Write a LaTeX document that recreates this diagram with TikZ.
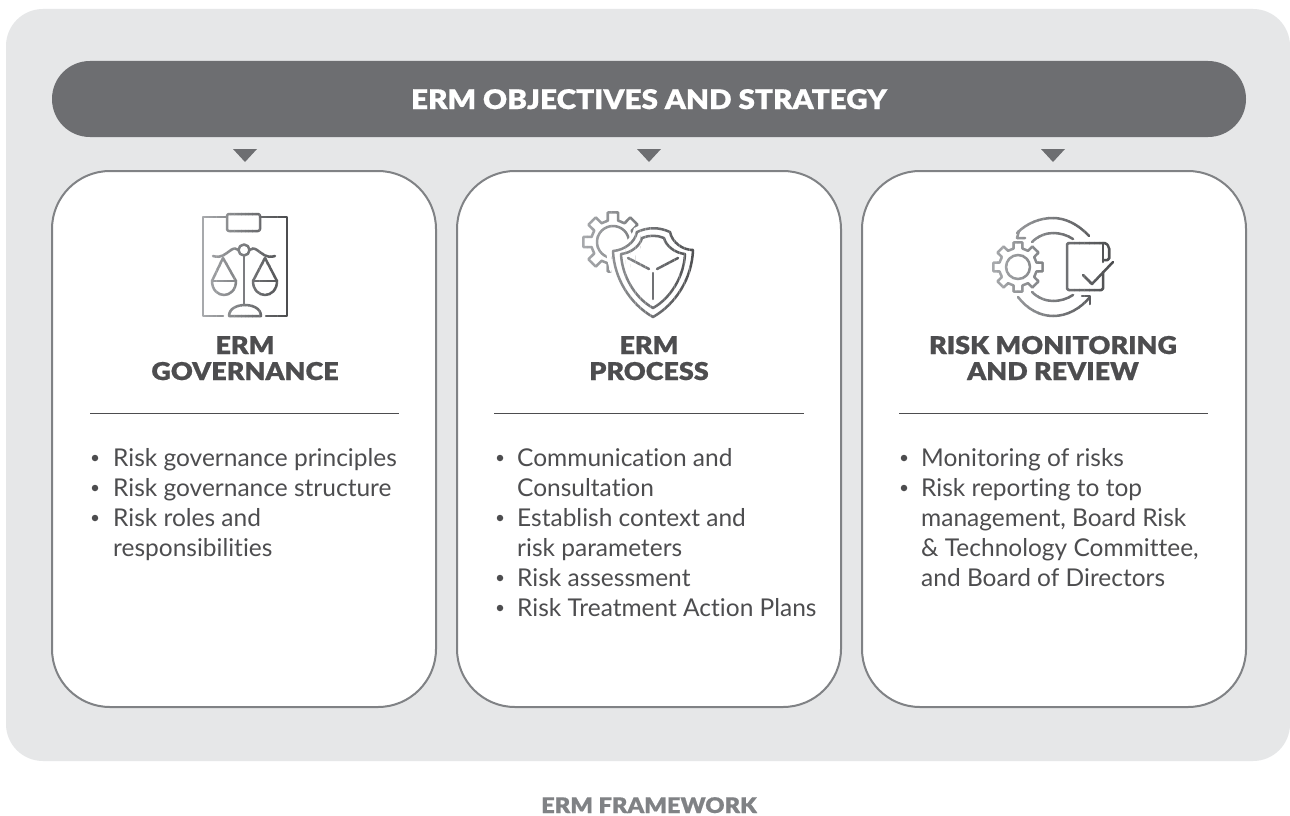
\documentclass[tikz,border=0pt]{standalone}
\usepackage{fontspec}
\setmainfont[Ligatures=NoCommon]{Lato}
\newfontfamily\headfont[FakeStretch=1.1,FakeBold=0.7]{Lato Black}
\definecolor{panelgray}{HTML}{E6E7E8}
\definecolor{bannergray}{HTML}{6D6E71}
\definecolor{edgegray}{HTML}{808285}
\definecolor{inkgray}{HTML}{4D4D4F}
\definecolor{icondark}{HTML}{4D4E50}
\definecolor{iconlight}{HTML}{A7A9AC}
\tikzset{
  x=1pt,y=-1pt,
  cardbox/.style={draw=edgegray,line width=2pt,fill=white,rounded corners=58pt},
  marker/.style={fill=bannergray,draw=none},
  heading/.style={font=\headfont\fontsize{24.5}{26}\selectfont,text=inkgray,align=center,anchor=base,inner sep=0pt},
  bodytext/.style={font=\fontsize{24.5}{30}\selectfont,text=inkgray,anchor=base west,inner sep=0pt},
  dotmark/.style={circle,fill=inkgray,inner sep=0pt,minimum size=6.5pt},
  rulerline/.style={draw=inkgray,line width=1pt},
  ic/.style={line width=2.5pt,line cap=round,line join=round},
}
% gradient stroke: redraw the icon in vertical strips
\newcommand{\gradicon}[3]{%
  \pgfmathsetmacro{\stripw}{(#2-#1)/24}%
  \foreach \si in {0,...,23}{%
    \pgfmathsetmacro{\sa}{#1+\si*\stripw}%
    \pgfmathsetmacro{\sb}{\sa+\stripw+0.4}%
    \pgfmathtruncatemacro{\mixv}{100-\si*100/23}%
    \colorlet{strokecol}{iconlight!\mixv!icondark}%
    \begin{scope}
      \clip (\sa,150) rectangle (\sb,340);
      #3
    \end{scope}
  }%
}
% gear outline: centre x, y, outer r, body r, teeth, start angle
\newcommand{\gearpath}[6]{%
  \pgfmathsetmacro{\gstep}{360/#5}%
  \pgfmathsetmacro{\gt}{\gstep*0.22}%
  \pgfmathsetmacro{\gb}{\gstep*0.30}%
  \draw[ic,draw=strokecol]
    ({#1+#4*cos(#6-\gb)},{#2+#4*sin(#6-\gb)})
    \foreach \gi in {1,...,#5}{
      \pgfextra{\pgfmathsetmacro{\ga}{#6+(\gi-1)*\gstep}}
      -- ({#1+#4*cos(\ga-\gb)},{#2+#4*sin(\ga-\gb)})
      -- ({#1+#3*cos(\ga-\gt)},{#2+#3*sin(\ga-\gt)})
      -- ({#1+#3*cos(\ga+\gt)},{#2+#3*sin(\ga+\gt)})
      -- ({#1+#4*cos(\ga+\gb)},{#2+#4*sin(\ga+\gb)})
    } -- cycle;
}
\newcommand{\iconscales}{%
  \begin{scope}[ic,draw=strokecol]
    \draw (227,217) -- (203,217) -- (203,316) -- (223,316);
    \draw (266,316) -- (287,316) -- (287,217) -- (260,217);
    \draw[rounded corners=2pt] (227,214) rectangle (260,231);
    \draw (229,316) -- (261,316) .. controls (261,308) and (252,305) .. (245,305) .. controls (238,305) and (229,308) .. (229,316);
    \draw (244,256) -- (244,305);
    \draw (244,250) circle (5.5);
    \draw (213,256) .. controls (222,259) and (226,253) .. (231,250) .. controls (234,248) and (236,248) .. (238.5,250);
    \draw (275,256) .. controls (266,259) and (262,253) .. (257,250) .. controls (254,248) and (252,248) .. (249.5,250);
    \draw (223,258) -- (212,281) .. controls (212,290) and (218,295) .. (224,295) .. controls (230,295) and (236,290) .. (236,281) -- (223,258);
    \draw (212,281) -- (236,281);
    \draw (265,258) -- (253,281) .. controls (253,290) and (259,295) .. (265,295) .. controls (271,295) and (277,290) .. (277,281) -- (265,258);
    \draw (253,281) -- (277,281);
  \end{scope}
}
\newcommand{\iconshield}{%
  \gearpath{613}{242}{30}{22}{8}{0}
  \draw[ic,draw=strokecol] (613,242) circle (16);
  \fill[white] (606,249) .. controls (622,248) and (632,238) .. (634,228) .. controls (646,222) and (660,222) .. (673,228) .. controls (676,238) and (686,246) .. (699,247) .. controls (698,280) and (680,308) .. (653,323) .. controls (626,308) and (608,280) .. (606,249) -- cycle;
  \begin{scope}[ic,draw=strokecol]
    \draw (613,251) .. controls (625,250) and (635,242) .. (637,232) .. controls (648,227) and (659,227) .. (670,232) .. controls (672,242) and (682,250) .. (693,250) .. controls (692,278) and (676,304) .. (653,317) .. controls (630,304) and (614,278) .. (613,251) -- cycle;
    \draw (621,254) .. controls (631,253) and (640,246) .. (642,238) .. controls (649,235) and (657,235) .. (664,238) .. controls (666,246) and (675,253) .. (685,254) .. controls (684,276) and (671,298) .. (653,308) .. controls (635,298) and (622,276) .. (621,254) -- cycle;
    \draw (628,258) -- (649,269);
    \draw (678,258) -- (657,269);
    \draw (653,273) -- (653,299);
  \end{scope}
}
\newcommand{\iconcycle}{%
  \gearpath{1018}{267}{25}{19}{8}{0}
  \begin{scope}[ic,draw=strokecol]
    \draw (1018,267) circle (12);
    \draw[rounded corners=1.5pt] (1103,243) -- (1067,243) -- (1067,290) -- (1103,290) -- (1103,272);
    \draw (1103,262) -- (1103,243);
    \draw[rounded corners=1.5pt] (1103,243) -- (1106,243) -- (1109,247) -- (1109,260) -- (1103,260);
    \draw (1083,275) -- (1092,284) -- (1113,262);
    \draw (1089,236) .. controls (1078,224) and (1065,218) .. (1053,218) .. controls (1040,218) and (1027,223) .. (1017,233);
    \draw (1019,231) -- (1017,238) -- (1025,238);
    \draw (1073,239) .. controls (1067,235) and (1060,233) .. (1053,233) .. controls (1046,233) and (1038,236) .. (1032,242);
    \draw (1032,292) .. controls (1038,298) and (1046,301) .. (1053,301) .. controls (1060,301) and (1067,299) .. (1073,295);
    \draw (1018,297) .. controls (1027,309) and (1040,316) .. (1053,316) .. controls (1067,316) and (1080,309) .. (1090,297);
    \draw (1082,296) -- (1090,296) -- (1090,304);
  \end{scope}
}
\begin{document}
\begin{tikzpicture}
\useasboundingbox (0,0) rectangle (1290,816);
\fill[white] (0,0) rectangle (1290,816);
\fill[panelgray,rounded corners=37pt] (6,9) rectangle (1290,761);
\fill[bannergray,rounded corners=37.9pt] (52,61) rectangle (1246,137);
\node[font=\headfont\fontsize{27}{28}\selectfont,text=white,anchor=base,inner sep=0pt] (banner) at (649,109) {ERM OBJECTIVES AND STRATEGY};
% markers
\fill[marker] (233,149) -- (257,149) -- (245,162) -- cycle;
\fill[marker] (637,149) -- (661,149) -- (649,162) -- cycle;
\fill[marker] (1041,149) -- (1065,149) -- (1053,162) -- cycle;
% cards
\path[cardbox] (52,171) rectangle (436,707);
\path[cardbox] (457,171) rectangle (841,707);
\path[cardbox] (862,171) rectangle (1246,707);
% icons
\gradicon{202}{288}{\iconscales}
\gradicon{582}{699}{\iconshield}
\gradicon{992}{1115}{\iconcycle}
% headings
\node[heading] (h1a) at (245,354) {ERM};
\node[heading] (h1b) at (245,380) {GOVERNANCE};
\node[heading] (h2a) at (649,354) {ERM};
\node[heading] (h2b) at (649,380) {PROCESS};
\node[heading] (h3a) at (1053,354) {RISK MONITORING};
\node[heading] (h3b) at (1053,380) {AND REVIEW};
% rules
\coordinate (r1a) at (90,413); \coordinate (r1b) at (399,413);
\coordinate (r2a) at (494,413); \coordinate (r2b) at (804,413);
\coordinate (r3a) at (899,413); \coordinate (r3b) at (1208,413);
\draw[rulerline] (r1a) -- (r1b);
\draw[rulerline] (r2a) -- (r2b);
\draw[rulerline] (r3a) -- (r3b);
% body 1
\node[dotmark] (d11) at (95,458) {};
\node[bodytext] (t11) at (113,466) {Risk governance principles};
\node[dotmark] (d12) at (95,488) {};
\node[bodytext] (t12) at (113,496) {Risk governance structure};
\node[dotmark] (d13) at (95,518) {};
\node[bodytext] (t13) at (113,526) {Risk roles and};
\node[bodytext] (t14) at (113,556) {responsibilities};
% body 2
\node[dotmark] (d21) at (500,458) {};
\node[bodytext] (t21) at (517,466) {Communication and};
\node[bodytext] (t22) at (517,496) {Consultation};
\node[dotmark] (d23) at (500,518) {};
\node[bodytext] (t23) at (517,526) {Establish context and};
\node[bodytext] (t24) at (517,556) {risk parameters};
\node[dotmark] (d25) at (500,578) {};
\node[bodytext] (t25) at (517,586) {Risk assessment};
\node[dotmark] (d26) at (500,608) {};
\node[bodytext] (t26) at (517,616) {Risk Treatment Action Plans};
% body 3
\node[dotmark] (d31) at (904,458) {};
\node[bodytext] (t31) at (921,466) {Monitoring of risks};
\node[dotmark] (d32) at (904,488) {};
\node[bodytext] (t32) at (921,496) {Risk reporting to top};
\node[bodytext] (t33) at (921,526) {management, Board Risk};
\node[bodytext] (t34) at (921,556) {\& Technology Committee,};
\node[bodytext] (t35) at (921,586) {and Board of Directors};
% footer
\node[font=\headfont\fontsize{21.5}{24}\selectfont,text=edgegray,anchor=base,inner sep=0pt] (foot) at (649,813) {ERM FRAMEWORK};
\end{tikzpicture}
\end{document}
